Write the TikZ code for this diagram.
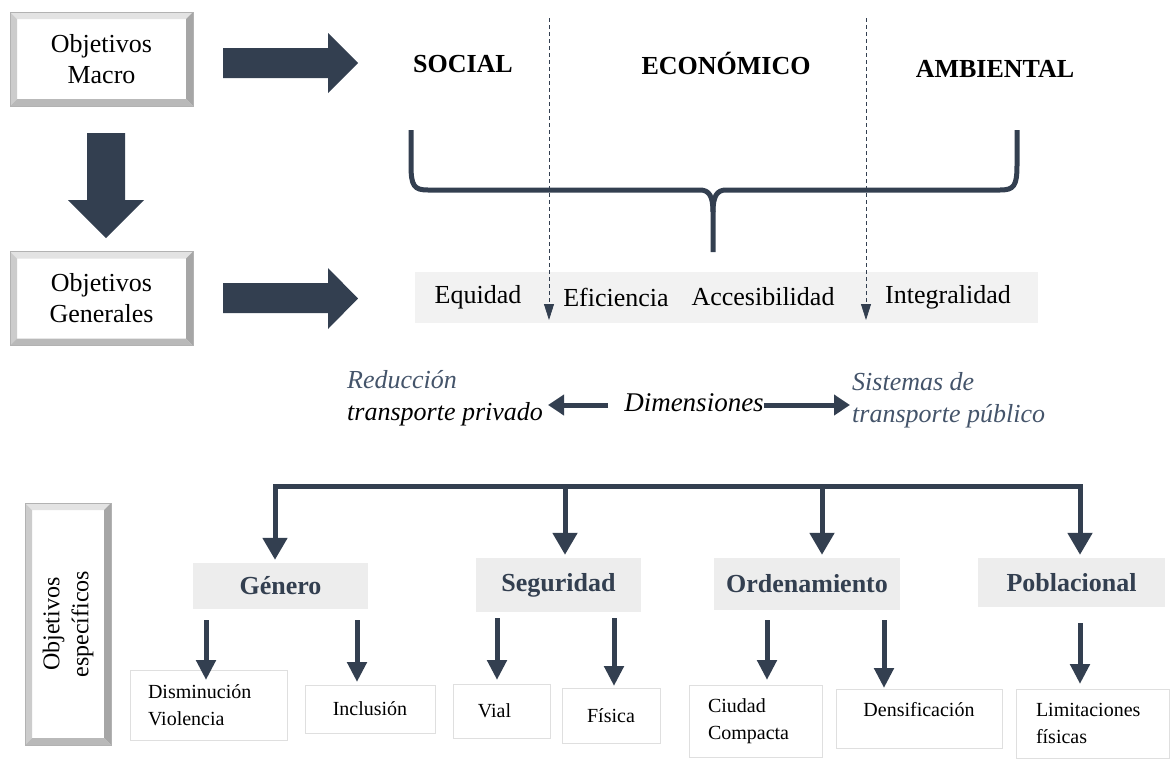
\documentclass[tikz,border=0pt]{standalone}
\usepackage{fontspec}
\usepackage{graphicx}
\setmainfont{Liberation Serif}
\usetikzlibrary{arrows.meta,calc}
\definecolor{slate}{HTML}{333F50}
\definecolor{slatetext}{HTML}{44546A}
\definecolor{bandfill}{HTML}{F2F2F2}
\definecolor{catfill}{HTML}{EDEDED}
\tikzset{
  bevelbox/.style={draw=gray!60, fill=white, inner sep=0pt, align=center,
    font=\fontsize{26}{31}\selectfont,
    path picture={
      \fill[gray!22] (path picture bounding box.north west) -- (path picture bounding box.north east)
        -- ([shift={(-7pt,-7pt)}]path picture bounding box.north east) -- ([shift={(7pt,-7pt)}]path picture bounding box.north west) -- cycle;
      \fill[gray!40] (path picture bounding box.north west) -- ([shift={(7pt,-7pt)}]path picture bounding box.north west)
        -- ([shift={(7pt,7pt)}]path picture bounding box.south west) -- (path picture bounding box.south west) -- cycle;
      \fill[gray!70] (path picture bounding box.north east) -- ([shift={(-7pt,-7pt)}]path picture bounding box.north east)
        -- ([shift={(-7pt,7pt)}]path picture bounding box.south east) -- (path picture bounding box.south east) -- cycle;
      \fill[gray!55] (path picture bounding box.south west) -- ([shift={(7pt,7pt)}]path picture bounding box.south west)
        -- ([shift={(-7pt,7pt)}]path picture bounding box.south east) -- (path picture bounding box.south east) -- cycle;
    }},
  blockarrow/.style={fill=slate},
  toplabel/.style={font=\fontsize{26}{31}\selectfont\bfseries, inner sep=0pt},
  bandtext/.style={font=\fontsize{26}{31}\selectfont, inner sep=0pt},
  dasharr/.style={draw=slate, line width=0.8pt, dash pattern=on 4pt off 3pt, -{Triangle[width=10pt,length=16pt]}},
  brace/.style={draw=slate, line width=5pt, line cap=butt, line join=round},
  dimtext/.style={font=\fontsize{27}{32}\selectfont\itshape, inner sep=0pt},
  dimarr/.style={draw=slate, line width=5pt, -{Triangle[width=20pt,length=16pt]}},
  busline/.style={draw=slate, line width=5pt, line cap=rect},
  treearr/.style={draw=slate, line width=5pt, -{Triangle[width=24pt,length=22pt]}},
  smallarr/.style={draw=slate, line width=5pt, -{Triangle[width=19pt,length=20pt]}},
  catbox/.style={fill=catfill, text=slate, inner sep=0pt, font=\fontsize{26}{31}\selectfont\bfseries},
  leafbox/.style={draw=gray!25, fill=white, inner sep=0pt, font=\fontsize{20}{27}\selectfont},
}
\begin{document}
\begin{tikzpicture}[x=1pt,y=-1pt]
\useasboundingbox (0,0) rectangle (1170,758);

% left beveled boxes
\node[bevelbox, minimum width=183pt, minimum height=94pt] (macro) at (101.5,59) {Objetivos\\Macro};
\node[bevelbox, minimum width=183pt, minimum height=94pt] (generales) at (101.5,298.5) {Objetivos\\Generales};
\node[bevelbox, minimum width=86pt, minimum height=242pt, font=\fontsize{24}{29}\selectfont] (especificos) at (68,624)
  {\rotatebox{90}{\begin{tabular}{@{}c@{}}Objetivos\\específicos\end{tabular}}};

% block arrows
\fill[blockarrow] (223,48) -- (328,48) -- (328,33) -- (358,63) -- (328,93) -- (328,78) -- (223,78) -- cycle;
\fill[blockarrow] (223,283) -- (328,283) -- (328,268) -- (358,298.5) -- (328,329) -- (328,313) -- (223,313) -- cycle;
\fill[blockarrow] (87,133) -- (125,133) -- (125,200) -- (144,200) -- (106,238) -- (68,200) -- (87,200) -- cycle;

% top labels
\node[toplabel] (social) at (463,64) {SOCIAL};
\node[toplabel] (economico) at (726,63) {ECONÓMICO};
\node[toplabel] (ambiental) at (995,69) {AMBIENTAL};

% band
\node[fill=bandfill, minimum width=623pt, minimum height=51pt, inner sep=0pt] (band) at (726.5,297.5) {};
\node[bandtext] (equidad) at (478,297) {Equidad};
\node[bandtext] (eficiencia) at (616,297) {Eficiencia};
\node[bandtext] (accesibilidad) at (763,297) {Accesibilidad};
\node[bandtext] (integralidad) at (948,297) {Integralidad};

% dashed dividers
\coordinate (d1t) at (549,18);
\coordinate (d1b) at (549,320);
\coordinate (d2t) at (866,18);
\coordinate (d2b) at (866,320);
\draw[dasharr] (d1t) -- (d1b);
\draw[dasharr] (d2t) -- (d2b);

% brace
\draw[brace] (411,130) -- (411,165) .. controls (411,186) and (414,190) .. (428,190) -- (700,190)
  .. controls (709,190) and (713,196) .. (713,212) -- (713,252);
\draw[brace] (1017,130) -- (1017,165) .. controls (1017,186) and (1014,190) .. (1000,190) -- (726,190)
  .. controls (717,190) and (713,196) .. (713,212);

% dimensiones
\node[dimtext] (dim) at (694,403) {Dimensiones};
\node[dimtext, anchor=base west, text=slatetext, font=\fontsize{26}{31}\selectfont\itshape] (reduc) at (347,388) {Reducción};
\node[dimtext, anchor=base west, font=\fontsize{26}{31}\selectfont\itshape] (privado) at (347,420) {transporte privado};
\node[dimtext, anchor=base west, text=slatetext, font=\fontsize{26}{31}\selectfont\itshape] (sistemas) at (852,390) {Sistemas de};
\node[dimtext, anchor=base west, text=slatetext, font=\fontsize{26}{31}\selectfont\itshape] (publico) at (852,422) {transporte público};
\coordinate (dl) at (548,405);
\coordinate (dr) at (850,405);
\draw[dimarr] ([xshift=-16pt]dim.west |- dl) -- (dl);
\draw[dimarr] (dim.east |- dr) -- (dr);

% category boxes
\node[catbox, minimum width=175pt, minimum height=46pt] (genero) at (280.5,586) {Género};
\node[catbox, minimum width=165pt, minimum height=54pt] (seguridad) at (558.5,585) {Seguridad};
\node[catbox, minimum width=186pt, minimum height=52pt] (ordenamiento) at (807,584) {Ordenamiento};
\node[catbox, minimum width=187pt, minimum height=49pt] (poblacional) at (1071.5,582.5) {Poblacional};

% tree
\coordinate (b1) at (275,486);
\coordinate (b2) at (565,486);
\coordinate (b3) at (822,486);
\coordinate (b4) at (1080,486);
\draw[busline] (b1) -- (b4);
\draw[treearr, shorten >=3pt] (b1) -- (b1 |- genero.north);
\draw[treearr, shorten >=3pt] (b2) -- (b2 |- seguridad.north);
\draw[treearr, shorten >=3pt] (b3) -- (b3 |- ordenamiento.north);
\draw[treearr, shorten >=3pt] (b4) -- (b4 |- poblacional.north);

% leaf boxes
\node[leafbox, minimum width=157pt, minimum height=70pt, text width=121pt, inner xsep=18pt, align=left] (dv) at (208.5,705) {Disminución\\Violencia};
\node[leafbox, minimum width=130pt, minimum height=48pt] (inclusion) at (370,709) {Inclusión};
\node[leafbox, minimum width=97pt, minimum height=54pt] (vial) at (501.5,711) {\hspace*{-14pt}Vial};
\node[leafbox, minimum width=98pt, minimum height=55pt] (fisica) at (611,715.5) {Física};
\node[leafbox, minimum width=133pt, minimum height=72pt, text width=95pt, inner xsep=19pt, align=left] (cc) at (755.5,721) {Ciudad\\Compacta};
\node[leafbox, minimum width=166pt, minimum height=59pt, align=center] (dens) at (919,718.5) {Densificación\\[-8pt]\mbox{}};
\node[leafbox, minimum width=153pt, minimum height=69pt, text width=113pt, inner xsep=20pt, align=left] (lim) at (1092.5,723.5) {Limitaciones\\físicas};

% small arrows
\coordinate (s1) at (206,620); \coordinate (e1) at (206,680);
\coordinate (s2) at (357,620); \coordinate (e2) at (357,682);
\coordinate (s3) at (497,618); \coordinate (e3) at (497,680);
\coordinate (s4) at (614,618); \coordinate (e4) at (614,686);
\coordinate (s5) at (767,620); \coordinate (e5) at (767,680);
\coordinate (s6) at (884,620); \coordinate (e6) at (884,688);
\coordinate (s7) at (1080,623); \coordinate (e7) at (1080,684);
\draw[smallarr] (s1) -- (e1);
\draw[smallarr] (s2) -- (e2);
\draw[smallarr] (s3) -- (e3);
\draw[smallarr] (s4) -- (e4);
\draw[smallarr] (s5) -- (e5);
\draw[smallarr] (s6) -- (e6);
\draw[smallarr] (s7) -- (e7);
\end{tikzpicture}
\end{document}
